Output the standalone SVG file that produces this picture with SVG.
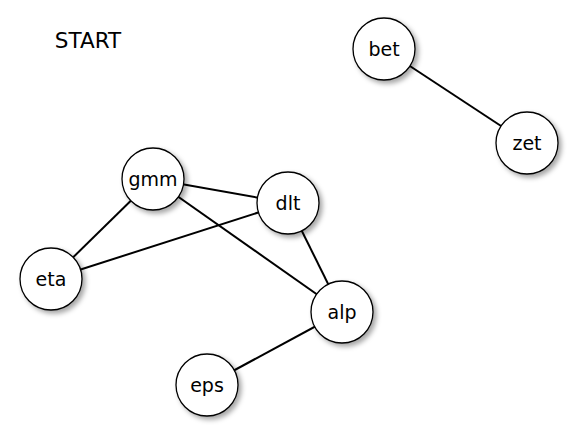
<svg xmlns="http://www.w3.org/2000/svg" width="585" height="439" viewBox="0 0 585 439">
<style>
.n circle{fill:#fff;stroke:#000;stroke-width:1.3;filter:url(#sh)}
.n text{font-family:"DejaVu Sans",sans-serif;font-size:19px;text-anchor:middle;fill:#000}
#edges line{stroke:#000;stroke-width:2}
</style>
<defs>
<filter id="sh" x="-30%" y="-30%" width="170%" height="170%">
<feDropShadow dx="3" dy="3" stdDeviation="2.5" flood-color="#000" flood-opacity="0.35"/>
</filter>
</defs>
<rect width="585" height="439" fill="#fff"/>
<text x="88" y="48" font-family="DejaVu Sans, sans-serif" font-size="21.5" text-anchor="middle">START</text>
<g id="edges">
<line x1="153" y1="179" x2="288" y2="203"/>
<line x1="153" y1="179" x2="51" y2="279"/>
<line x1="153" y1="179" x2="342" y2="312"/>
<line x1="288" y1="203" x2="51" y2="279"/>
<line x1="288" y1="203" x2="342" y2="312"/>
<line x1="342" y1="312" x2="207" y2="385"/>
<line x1="384" y1="49" x2="527" y2="143"/>
</g>
<g id="bet" class="n"><circle cx="384" cy="49" r="31"/><text x="384" y="56">bet</text></g>
<g id="zet" class="n"><circle cx="527" cy="143" r="31"/><text x="527" y="150">zet</text></g>
<g id="gmm" class="n"><circle cx="153" cy="179" r="31"/><text x="153" y="186">gmm</text></g>
<g id="dlt" class="n"><circle cx="288" cy="203" r="31"/><text x="288" y="210">dlt</text></g>
<g id="eta" class="n"><circle cx="51" cy="279" r="31"/><text x="51" y="286">eta</text></g>
<g id="alp" class="n"><circle cx="342" cy="312" r="31"/><text x="342" y="319">alp</text></g>
<g id="eps" class="n"><circle cx="207" cy="385" r="31"/><text x="207" y="392">eps</text></g>
</svg>
